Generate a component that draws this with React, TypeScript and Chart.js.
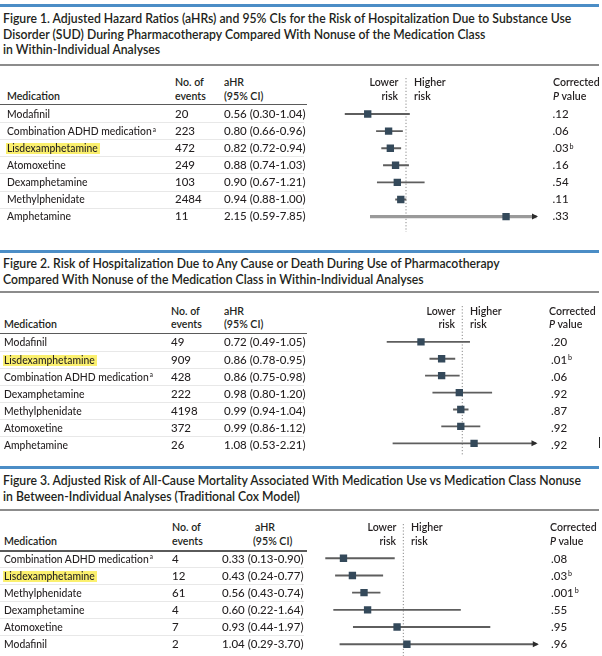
import React, { useEffect, useRef } from "react";
import { Chart, registerables } from "chart.js";
Chart.register(...registerables);

// ---------------- DATA ----------------
const fig1Title = [
  "Figure 1. Adjusted Hazard Ratios (aHRs) and 95% CIs for the Risk of Hospitalization Due to Substance Use",
  "Disorder (SUD) During Pharmacotherapy Compared With Nonuse of the Medication Class",
  "in Within-Individual Analyses",
];
const fig1Medications = ["Modafinil", "Combination ADHD medication", "Lisdexamphetamine", "Atomoxetine", "Dexamphetamine", "Methylphenidate", "Amphetamine"];
const fig1Events = [20, 223, 472, 249, 103, 2484, 11];
const fig1HR = [0.56, 0.8, 0.82, 0.88, 0.9, 0.94, 2.15];
const fig1Lower = [0.3, 0.66, 0.72, 0.74, 0.67, 0.88, 0.59];
const fig1Upper = [1.04, 0.96, 0.94, 1.03, 1.21, 1.0, 7.85];
const fig1P = [".12", ".06", ".03", ".16", ".54", ".11", ".33"];
const fig1PNote = ["", "", "b", "", "", "", ""];

const fig2Title = [
  "Figure 2. Risk of Hospitalization Due to Any Cause or Death During Use of Pharmacotherapy",
  "Compared With Nonuse of the Medication Class in Within-Individual Analyses",
];
const fig2Medications = ["Modafinil", "Lisdexamphetamine", "Combination ADHD medication", "Dexamphetamine", "Methylphenidate", "Atomoxetine", "Amphetamine"];
const fig2Events = [49, 909, 428, 222, 4198, 372, 26];
const fig2HR = [0.72, 0.86, 0.86, 0.98, 0.99, 0.99, 1.08];
const fig2Lower = [0.49, 0.78, 0.75, 0.8, 0.94, 0.86, 0.53];
const fig2Upper = [1.05, 0.95, 0.98, 1.2, 1.04, 1.12, 2.21];
const fig2P = [".20", ".01", ".06", ".92", ".87", ".92", ".92"];
const fig2PNote = ["", "b", "", "", "", "", ""];

const fig3Title = [
  "Figure 3. Adjusted Risk of All-Cause Mortality Associated With Medication Use vs Medication Class Nonuse",
  "in Between-Individual Analyses (Traditional Cox Model)",
];
const fig3Medications = ["Combination ADHD medication", "Lisdexamphetamine", "Methylphenidate", "Dexamphetamine", "Atomoxetine", "Modafinil"];
const fig3Events = [4, 12, 61, 4, 7, 2];
const fig3HR = [0.33, 0.43, 0.56, 0.6, 0.93, 1.04];
const fig3Lower = [0.13, 0.24, 0.43, 0.22, 0.44, 0.29];
const fig3Upper = [0.9, 0.77, 0.74, 1.64, 1.97, 3.7];
const fig3P = [".08", ".03", ".001", ".55", ".95", ".96"];
const fig3PNote = ["", "b", "b", "", "", ""];

// ---------------- STYLE ----------------
const FONT = 'Lato, "Noto Sans", sans-serif';
const ASC = 0.887;
const TEXT = "#231f20";
const PAGE_W = 602;
const TITLE_SIZE = 13;
const TITLE_SX = 0.94;
const HEAD_SIZE = 11.5;
const HEAD_SX = 0.92;
const BODY_SIZE = 11.5;
const BODY_WEIGHT = 500;
const NAME_SX = 0.9;

function Txt(props: any) {
  const { x, y, size, weight = BODY_WEIGHT, align = "left", color = TEXT, children, sx } = props;
  const style: React.CSSProperties = {
    position: "absolute",
    top: y - ASC * size,
    fontSize: size,
    lineHeight: `${size}px`,
    fontWeight: weight,
    color,
    whiteSpace: "nowrap",
    fontFamily: FONT,
  };
  if (align === "right") style.right = PAGE_W - x;
  else style.left = x;
  if (sx && sx !== 1) {
    style.transform = `scaleX(${sx})`;
    style.transformOrigin = align === "right" ? "right center" : "left center";
  }
  return <div style={style}>{children}</div>;
}

function Rule(props: any) {
  const { x, y, w, h, color } = props;
  return <div style={{ position: "absolute", left: x, top: y, width: w, height: h, background: color }} />;
}

const Sup = (props: any) => (
  <span style={{ fontSize: "0.62em", position: "relative", top: "-0.5em", marginLeft: 1 }}>{props.children}</span>
);

function Forest(props: any) {
  const { labels, hr, lo, hi, thick, xMax, plotLeft, plotRight, rowTop, rowH, refTop, refBottom } = props;
  const ref = useRef<HTMLCanvasElement>(null);
  const cLeft = 300;
  const cWidth = 260;
  const cTop = refTop - 4;
  const cBottom = refBottom + 2;
  const cHeight = cBottom - cTop;
  useEffect(() => {
    const canvas = ref.current;
    if (!canvas) return;
    const n = labels.length;
    const refLine = {
      id: "refLine",
      beforeDatasetsDraw(chart: any) {
        const { ctx } = chart;
        const px = chart.scales.x.getPixelForValue(1);
        ctx.save();
        ctx.strokeStyle = "#8a8a8a";
        ctx.lineWidth = 1;
        ctx.setLineDash([1.2, 2]);
        ctx.beginPath();
        ctx.moveTo(px, refTop - cTop);
        ctx.lineTo(px, refBottom - cTop);
        ctx.stroke();
        ctx.restore();
      },
    };
    const arrows = {
      id: "arrows",
      afterDatasetsDraw(chart: any) {
        const { ctx, chartArea } = chart;
        ctx.save();
        ctx.fillStyle = "#2b2b2b";
        for (let i = 0; i < n; i++) {
          if (hi[i] > xMax) {
            const y = chart.scales.y.getPixelForValue(i);
            const xr = chartArea.right + 1.5;
            ctx.beginPath();
            ctx.moveTo(xr, y);
            ctx.lineTo(xr - 6, y - 3);
            ctx.lineTo(xr - 6, y + 3);
            ctx.closePath();
            ctx.fill();
          }
        }
        ctx.restore();
      },
    };
    const normal = lo.map((l: number, i: number) => (thick && thick[i] ? null : [l, hi[i]]));
    const heavy = lo.map((l: number, i: number) => (thick && thick[i] ? [l, hi[i]] : null));
    const chart = new Chart(canvas, {
      type: "bar",
      data: {
        labels,
        datasets: [
          {
            type: "bar",
            data: normal as any,
            backgroundColor: "#5e5e5e",
            barThickness: 1.2,
            borderWidth: 0,
            borderSkipped: false,
            grouped: false,
            order: 3,
          } as any,
          {
            type: "bar",
            data: heavy as any,
            backgroundColor: "#9a9a9a",
            barThickness: 2.6,
            borderWidth: 0,
            borderSkipped: false,
            grouped: false,
            order: 2,
          } as any,
          {
            type: "scatter",
            data: hr.map((v: number, i: number) => ({ x: v, y: labels[i] })),
            pointStyle: "rect",
            pointRadius: 5.2,
            pointHoverRadius: 5.2,
            backgroundColor: "#34495a",
            borderWidth: 0,
            order: 1,
          } as any,
        ],
      },
      options: {
        indexAxis: "y",
        responsive: false,
        animation: false,
        events: [],
        layout: {
          padding: {
            left: plotLeft - cLeft,
            right: cLeft + cWidth - plotRight,
            top: rowTop - cTop,
            bottom: cBottom - (rowTop + n * rowH),
          },
        },
        scales: {
          x: { type: "linear", min: 0, max: xMax, display: false },
          y: { type: "category", offset: true, display: false },
        },
        plugins: { legend: { display: false }, tooltip: { enabled: false } },
      } as any,
      plugins: [refLine, arrows],
    });
    return () => chart.destroy();
  }, []);
  return (
    <canvas
      ref={ref}
      width={cWidth}
      height={cHeight}
      style={{ position: "absolute", left: cLeft, top: cTop, width: cWidth, height: cHeight }}
    />
  );
}

const fmt = (v: number) => v.toFixed(2);

function Figure(props: any) {
  const { c, title, meds, events, hr, lo, hi, p, pNote, thick } = props;
  const n = meds.length;
  const items: any[] = [];
  items.push(<Rule key="blue" x={0} y={c.blueY} w={599} h={3} color="#4b8dc6" />);
  title.forEach((t: string, i: number) =>
    items.push(
      <Txt key={"t" + i} x={3} y={c.titleBase[i]} size={TITLE_SIZE} weight={600} sx={TITLE_SX}>
        {t}
      </Txt>
    )
  );
  items.push(<Rule key="gray" x={0} y={c.grayY} w={599} h={2} color="#8c8c8c" />);
  const H = (key: string, x: number, y: number, txt: any, align = "left") =>
    items.push(
      <Txt key={key} x={x} y={y} size={HEAD_SIZE} weight={600} align={align} sx={HEAD_SX}>
        {txt}
      </Txt>
    );
  H("hm", c.medX, c.h2, "Medication");
  H("he1", c.evX, c.h1, "No. of");
  H("he2", c.evX, c.h2, "events");
  H("ha1", c.hrHead[0], c.h1, "aHR");
  H("ha2", c.hrHead[1], c.h2, "(95% CI)");
  H("hl1", c.lowerRight, c.h1, "Lower", "right");
  H("hl2", c.lowerRight, c.h2, "risk", "right");
  H("hh1", c.higherX, c.h1, "Higher");
  H("hh2", c.higherX, c.h2, "risk");
  H("hc1", c.corrX, c.h1, "Corrected");
  H("hc2", c.corrX, c.h2, (<><i>P</i> value</>) as any);
  items.push(<Rule key="ul" x={0} y={c.ulY} w={307} h={1.3} color="#5a5a5a" />);
  for (let i = 0; i < n; i++) {
    const b = c.rowBase0 + i * c.rowStep;
    if (i < n - 1) items.push(<Rule key={"sep" + i} x={0} y={b + 4} w={304} h={1} color="#e8e8e8" />);
    if (meds[i] === "Lisdexamphetamine")
      items.push(<Rule key={"hl" + i} x={c.medX - 1} y={b - 9} w={93.5} h={11} color="#fbf06e" />);
    items.push(
      <Txt key={"m" + i} x={c.medX} y={b} size={BODY_SIZE} sx={NAME_SX}>
        {meds[i]}
        {meds[i].startsWith("Combination") ? <Sup>a</Sup> : null}
      </Txt>
    );
    items.push(
      <Txt key={"e" + i} x={c.evX} y={b} size={BODY_SIZE}>
        {String(events[i])}
      </Txt>
    );
    items.push(
      <Txt key={"h" + i} x={c.hrX} y={b} size={BODY_SIZE}>
        {`${fmt(hr[i])} (${fmt(lo[i])}-${fmt(hi[i])})`}
      </Txt>
    );
    items.push(
      <Txt key={"p" + i} x={c.pX} y={b} size={BODY_SIZE}>
        {p[i]}
        {pNote[i] ? <Sup>{pNote[i]}</Sup> : null}
      </Txt>
    );
  }
  return (
    <>
      <Forest labels={meds} hr={hr} lo={lo} hi={hi} thick={thick} {...c.chart} />
      {items}
    </>
  );
}

const layout1 = {
  blueY: 4, grayY: 63.5, titleBase: [24, 39.5, 55],
  h1: 86.7, h2: 100, ulY: 103.5,
  medX: 7, evX: 175, hrX: 224, hrHead: [224, 224], pX: 552.5, corrX: 553,
  lowerRight: 398.5, higherX: 413.5, rowBase0: 118.3, rowStep: 17.05,
  chart: { plotLeft: 319, plotRight: 536.5, xMax: 2.5, rowTop: 105.45, rowH: 17.1, refTop: 78, refBottom: 232 },
};
const layout2 = {
  blueY: 249.5, grayY: 291, titleBase: [268.5, 284.5],
  h1: 315, h2: 328.3, ulY: 332.5,
  medX: 4, evX: 171, hrX: 224, hrHead: [224, 224], pX: 551, corrX: 549,
  lowerRight: 455, higherX: 470, rowBase0: 346.7, rowStep: 17.1,
  chart: { plotLeft: 314.8, plotRight: 536, xMax: 1.5, rowTop: 333.4, rowH: 17.2, refTop: 306, refBottom: 455 },
};
const layout3 = {
  blueY: 465.5, grayY: 509, titleBase: [485.5, 502],
  h1: 531.7, h2: 545, ulY: 550.3,
  medX: 4, evX: 172, hrX: 222, hrHead: [255, 253], pX: 551, corrX: 550,
  lowerRight: 396, higherX: 411, rowBase0: 563.2, rowStep: 17.0,
  chart: { plotLeft: 314, plotRight: 537.3, xMax: 2.5, rowTop: 549.7, rowH: 17.2, refTop: 524, refBottom: 656 },
};

export default function App() {
  return (
    <div
      style={{
        position: "absolute",
        left: 0,
        top: 0,
        width: 602,
        height: 656,
        background: "#ffffff",
        overflow: "hidden",
        fontFamily: FONT,
      }}
    >
      <Figure c={layout1} title={fig1Title} meds={fig1Medications} events={fig1Events} hr={fig1HR} lo={fig1Lower} hi={fig1Upper} p={fig1P} pNote={fig1PNote} thick={[false, false, false, false, false, false, true]} />
      <Figure c={layout2} title={fig2Title} meds={fig2Medications} events={fig2Events} hr={fig2HR} lo={fig2Lower} hi={fig2Upper} p={fig2P} pNote={fig2PNote} />
      <Figure c={layout3} title={fig3Title} meds={fig3Medications} events={fig3Events} hr={fig3HR} lo={fig3Lower} hi={fig3Upper} p={fig3P} pNote={fig3PNote} />
      <Rule x={599} y={437} w={1} h={11} color="#222" />
    </div>
  );
}
